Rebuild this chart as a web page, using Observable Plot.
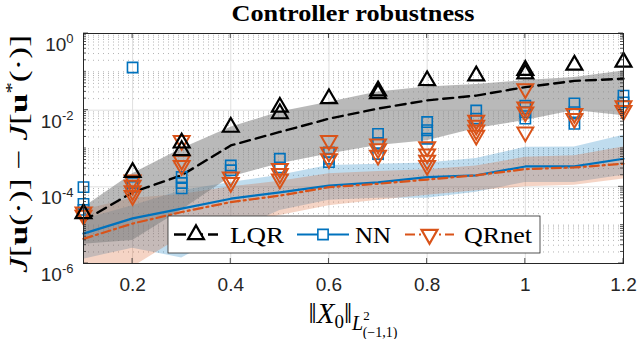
<!DOCTYPE html>
<html><head><meta charset="utf-8">
<script src="https://cdn.jsdelivr.net/npm/d3@7"></script>
<script src="https://cdn.jsdelivr.net/npm/@observablehq/plot@0.6"></script>
<style>body{margin:0;background:#fff}#chart{width:640px;height:339px}</style>
</head><body><div id="chart"></div>
<script>
// ---- data ----
const xs = [0.1, 0.2, 0.3, 0.4, 0.5, 0.6, 0.7, 0.8, 0.9, 1.0, 1.1, 1.2];
const lqrMed = [1.3e-5, 7.2e-5, 2.0e-4, 1.2e-3, 2.7e-3, 6.0e-3, 1.1e-2, 1.8e-2, 2.4e-2, 4.0e-2, 5.8e-2, 6.6e-2];
const lqrHi  = [2.9e-5, 2.2e-4, 9.8e-4, 3.6e-3, 8.9e-3, 1.6e-2, 3.0e-2, 4.0e-2, 4.7e-2, 5.9e-2, 7.1e-2, 1.05e-1];
const lqrLo  = [3.2e-6, 4.0e-6, 2.5e-5, 1.8e-4, 4.0e-4, 7.2e-4, 1.2e-3, 1.6e-3, 3.3e-3, 5.4e-3, 9.8e-3, 7.2e-3];
const nnMed  = [6.0e-6, 1.5e-5, 2.7e-5, 4.9e-5, 7.2e-5, 1.07e-4, 1.3e-4, 1.8e-4, 2.0e-4, 3.4e-4, 3.4e-4, 5.4e-4];
const nnHi   = [1.4e-5, 3.2e-5, 7.9e-5, 1.3e-4, 2.0e-4, 3.6e-4, 3.9e-4, 4.2e-4, 5.5e-4, 1.07e-3, 1.1e-3, 2.2e-3];
const nnLo   = [1.3e-6, 2.5e-6, 1.4e-6, 6.3e-6, 2.4e-5, 4.5e-5, 5.0e-5, 5.0e-5, 7.2e-5, 1.3e-4, 1.3e-4, 2.0e-4];
const qrMed  = [4.4e-6, 1.1e-5, 2.2e-5, 4.0e-5, 5.9e-5, 9.8e-5, 1.2e-4, 1.55e-4, 2.0e-4, 2.9e-4, 3.2e-4, 4.0e-4];
const qrHi   = [2.5e-5, 5.0e-5, 6.3e-5, 1.0e-4, 1.4e-4, 2.2e-4, 2.5e-4, 2.8e-4, 3.5e-4, 5.9e-4, 6.5e-4, 1.1e-3];
const qrLo   = [5e-7, 8e-7, 5e-6, 1.0e-5, 1.8e-5, 3.2e-5, 4.5e-5, 6.0e-5, 7.9e-5, 1.0e-4, 1.1e-4, 1.6e-4];

// individual trials (markers)
const lqrPtX = [0.1, 0.2, 0.3, 0.3, 0.4, 0.5, 0.5, 0.6, 0.7, 0.7, 0.8, 0.9, 1.0, 1.0, 1.1, 1.2];
const lqrPtY = [2.0e-5, 2.4e-4, 1.4e-3, 8.9e-4, 3.6e-3, 1.2e-2, 8.1e-3, 2.0e-2, 3.2e-2, 2.7e-2, 5.9e-2, 7.9e-2, 1.1e-1, 8.9e-2, 1.5e-1, 1.8e-1];
const nnPtX = [0.1, 0.1, 0.1, 0.2, 0.2, 0.2, 0.3, 0.3, 0.3, 0.4, 0.4, 0.5, 0.5, 0.6, 0.6, 0.6, 0.7, 0.7, 0.7, 0.8, 0.8, 0.8, 0.9, 0.9, 1.0, 1.0, 1.0, 1.1, 1.1, 1.1, 1.2, 1.2];
const nnPtY = [9.8e-5, 3.6e-5, 2.5e-5, 1.3e-1, 1.26e-4, 1.0e-4, 1.8e-4, 9.1e-5, 1.26e-4, 3.6e-4, 2.7e-4, 5.4e-4, 3.2e-4, 7.9e-4, 5.4e-4, 4.4e-4, 2.4e-3, 1.4e-3, 7.2e-4, 4.9e-3, 3.0e-3, 1.8e-3, 9.8e-3, 6.0e-3, 1.3e-2, 8.9e-3, 6.0e-3, 1.5e-2, 8.9e-3, 4.4e-3, 2.4e-2, 1.6e-2];
const qrPtX = [0.1, 0.1, 0.2, 0.2, 0.2, 0.2, 0.3, 0.3, 0.3, 0.4, 0.4, 0.5, 0.5, 0.5, 0.6, 0.6, 0.6, 0.7, 0.7, 0.7, 0.8, 0.8, 0.8, 0.8, 0.9, 0.9, 0.9, 0.9, 1.0, 1.0, 1.0, 1.0, 1.1, 1.1, 1.2, 1.2];
const qrPtY = [2.2e-5, 1.8e-5, 1.5e-4, 1.1e-4, 7.9e-5, 5.9e-5, 1.6e-3, 4.9e-4, 3.6e-4, 1.8e-4, 1.3e-4, 3.0e-4, 2.2e-4, 1.6e-4, 1.6e-3, 7.9e-4, 5.4e-4, 1.3e-3, 9.8e-4, 6.6e-4, 1.1e-3, 7.2e-4, 4.9e-4, 3.6e-4, 5.4e-3, 4.0e-3, 3.0e-3, 2.2e-3, 3.6e-2, 1.2e-2, 8.9e-3, 2.7e-3, 8.1e-3, 6.0e-3, 1.3e-2, 9.8e-3];

const xTicks = [0.2, 0.4, 0.6, 0.8, 1, 1.2];
const yTicks = [1e-6, 1e-4, 1e-2, 1];
const seriesNames = ["LQR", "NN", "QRnet"];
const colors = {LQR: "#000000", NN: "#0072BD", QRnet: "#D95319"};

// ---- tables ----
const tbl = (med, lo, hi) => xs.map((x, i) => ({x, med: med[i], lo: lo[i], hi: hi[i]}));
const lqrT = tbl(lqrMed, lqrLo, lqrHi), nnT = tbl(nnMed, nnLo, nnHi), qrT = tbl(qrMed, qrLo, qrHi);
const pts = (X, Y) => X.map((x, i) => ({x, y: Y[i]}));
const lqrP = pts(lqrPtX, lqrPtY), nnP = pts(nnPtX, nnPtY), qrP = pts(qrPtX, qrPtY);

// grid positions
const minorY = [];
for (let e = -6; e < 0; e++) for (let m = 2; m <= 9; m++) minorY.push(m * Math.pow(10, e));
const decadeMinor = [1e-5, 1e-3, 1e-1];

const plot = Plot.plot({
  width: 640, height: 339,
  marginLeft: 83, marginRight: 17, marginTop: 33, marginBottom: 76,
  style: {fontFamily: "'Liberation Sans', Arial, sans-serif", fontSize: "19px", background: "#fff", color: "#262626"},
  x: {domain: [0.1, 1.2]},
  y: {type: "log", domain: [1e-6, 1]},
  marks: [
    Plot.ruleY(minorY.concat(decadeMinor), {stroke: "#b4b4b4", strokeDasharray: "1,4", strokeWidth: 1}),
    Plot.ruleY(yTicks, {stroke: "#e0e0e0"}),
    Plot.ruleX(xTicks, {stroke: "#e0e0e0"}),
    Plot.areaY(nnT, {x: "x", y1: "lo", y2: "hi", fill: colors.NN, fillOpacity: 0.25, clip: true}),
    Plot.areaY(qrT, {x: "x", y1: "lo", y2: "hi", fill: colors.QRnet, fillOpacity: 0.25, clip: true}),
    Plot.areaY(lqrT, {x: "x", y1: "lo", y2: "hi", fill: "#808080", fillOpacity: 0.55, clip: true}),
    Plot.lineY(nnT, {x: "x", y: "med", stroke: colors.NN, strokeWidth: 2.2}),
    Plot.lineY(qrT, {x: "x", y: "med", stroke: colors.QRnet, strokeWidth: 2.2, strokeDasharray: "9,4,2,4"}),
    Plot.lineY(lqrT, {x: "x", y: "med", stroke: colors.LQR, strokeWidth: 2.4, strokeDasharray: "10,6"}),
    Plot.dot(nnP, {x: "x", y: "y", symbol: "square", r: 5.8, stroke: colors.NN, strokeWidth: 1.6, fill: "none"}),
    Plot.dot(qrP, {x: "x", y: "y", symbol: "triangle", rotate: 180, r: 5.9, stroke: colors.QRnet, strokeWidth: 2, fill: "none"}),
    Plot.dot(lqrP, {x: "x", y: "y", symbol: "triangle", r: 5.9, stroke: colors.LQR, strokeWidth: 2.2, fill: "none"}),
    Plot.frame({stroke: "#262626", strokeWidth: 1}),
    Plot.axisX({ticks: xTicks, tickSize: 0, tickPadding: 14, fontSize: 19, tickFormat: d => String(d), label: null}),
    Plot.axisY({ticks: yTicks, tickSize: 0, tickPadding: 10, fontSize: 19, tickFormat: d => "10^" + Math.round(Math.log10(d)), label: null})
  ]
});
document.getElementById("chart").appendChild(plot);

const svg = d3.select(plot);
const X = plot.scale("x"), Y = plot.scale("y");
const x0 = X.range[0], x1 = X.range[1], yb = Y.range[0], yt = Y.range[1];

// superscript y tick labels
svg.selectAll('g[aria-label="y-axis tick label"] text').each(function () {
  const t = d3.select(this); const s = t.text(); const [b, e] = s.split("^");
  t.text(null).attr("dy", "0.6em");
  t.append("tspan").text(b);
  t.append("tspan").attr("dy", "-0.6em").attr("font-size", "13px").text(e);
});

// inward ticks
const tk = svg.append("g").attr("stroke", "#262626").attr("stroke-width", 0.8);
minorY.concat(decadeMinor).forEach(v => {
  const y = Y.apply(v);
  tk.append("line").attr("x1", x0).attr("x2", x0 + 3).attr("y1", y).attr("y2", y);
  tk.append("line").attr("x1", x1).attr("x2", x1 - 3).attr("y1", y).attr("y2", y);
});
yTicks.forEach(v => {
  const y = Y.apply(v);
  tk.append("line").attr("x1", x0).attr("x2", x0 + 5).attr("y1", y).attr("y2", y);
  tk.append("line").attr("x1", x1).attr("x2", x1 - 5).attr("y1", y).attr("y2", y);
});
xTicks.forEach(v => {
  const x = X.apply(v);
  tk.append("line").attr("x1", x).attr("x2", x).attr("y1", yb).attr("y2", yb - 5);
  tk.append("line").attr("x1", x).attr("x2", x).attr("y1", yt).attr("y2", yt + 5);
});

const serif = "'Liberation Serif', 'DejaVu Serif', 'Times New Roman', serif";
const cx = (x0 + x1) / 2;

// title
svg.append("text").attr("x", cx).attr("y", 21).attr("text-anchor", "middle")
  .attr("font-family", serif).attr("font-weight", "bold").attr("font-size", 23)
  .attr("textLength", 243).attr("lengthAdjust", "spacingAndGlyphs").attr("fill", "#000")
  .text("Controller robustness");

// y label
const yl = svg.append("text").attr("transform", `translate(27,${(yt + yb) / 2 + 6}) rotate(-90)`)
  .attr("text-anchor", "middle").attr("font-family", serif).attr("font-size", 25).attr("fill", "#000")
  .attr("textLength", 238).attr("lengthAdjust", "spacingAndGlyphs");
yl.append("tspan").attr("font-style", "italic").text("J");
yl.append("tspan").text("[");
yl.append("tspan").attr("font-weight", "bold").text("u");
yl.append("tspan").text("(·)] − ");
yl.append("tspan").attr("font-style", "italic").text("J");
yl.append("tspan").text("[");
yl.append("tspan").attr("font-weight", "bold").text("u");
yl.append("tspan").attr("font-size", 16).attr("dy", -10).text("*");
yl.append("tspan").attr("dy", 10).text("(·)]");

// x label
const xl = svg.append("text").attr("x", cx).attr("y", 323).attr("text-anchor", "middle")
  .attr("font-family", serif).attr("font-size", 29).attr("fill", "#000");
xl.append("tspan").text("‖");
xl.append("tspan").attr("font-style", "italic").text("X");
xl.append("tspan").attr("font-size", 19).attr("dy", 5).text("0");
xl.append("tspan").attr("dy", -5).text("‖");
xl.append("tspan").attr("font-size", 20).attr("font-style", "italic").attr("dy", 7).text("L");
xl.append("tspan").attr("font-size", 13).attr("dy", -10).text("2");
xl.append("tspan").attr("font-size", 14).attr("dx", -7).attr("dy", 17).text("(−1,1)");

// legend
const lg = svg.append("g").attr("text-anchor", "start");
const lx = 168, ly = 216, lw = 372, lh = 37, lyc = ly + lh / 2;
lg.append("rect").attr("x", lx).attr("y", ly).attr("width", lw).attr("height", lh)
  .attr("fill", "#fff").attr("stroke", "#262626").attr("stroke-width", 0.8);
const items = [
  {name: "LQR", l0: 174, l1: 218, sym: d3.symbolTriangle, rot: 0, dash: "12,5", sw: 2.4, tx: 230, tl: 54},
  {name: "NN", l0: 297, l1: 349, sym: d3.symbolSquare, rot: 0, dash: null, sw: 2.2, tx: 355, tl: 36},
  {name: "QRnet", l0: 405, l1: 454, sym: d3.symbolTriangle, rot: 180, dash: "10,4,2,4", sw: 2.2, tx: 464, tl: 68}
];
items.forEach(it => {
  const c = colors[it.name];
  const ln = lg.append("line").attr("x1", it.l0).attr("x2", it.l1).attr("y1", lyc).attr("y2", lyc)
    .attr("stroke", c).attr("stroke-width", it.sw);
  if (it.dash) ln.attr("stroke-dasharray", it.dash);
  const mx = (it.l0 + it.l1) / 2;
  const rr = it.name === "NN" ? 5.8 : 5.9;
  lg.append("path").attr("d", d3.symbol(it.sym, Math.PI * rr * rr)())
    .attr("transform", `translate(${mx},${lyc}) rotate(${it.rot})`)
    .attr("fill", "#fff").attr("stroke", c).attr("stroke-width", it.name === "NN" ? 1.6 : 2.2);
  lg.append("text").attr("x", it.tx).attr("y", lyc + 8).attr("text-anchor", "start")
    .style("font-family", serif).attr("font-size", 23)
    .attr("textLength", it.tl).attr("lengthAdjust", "spacingAndGlyphs").attr("fill", "#000").text(it.name);
});
</script></body></html>
